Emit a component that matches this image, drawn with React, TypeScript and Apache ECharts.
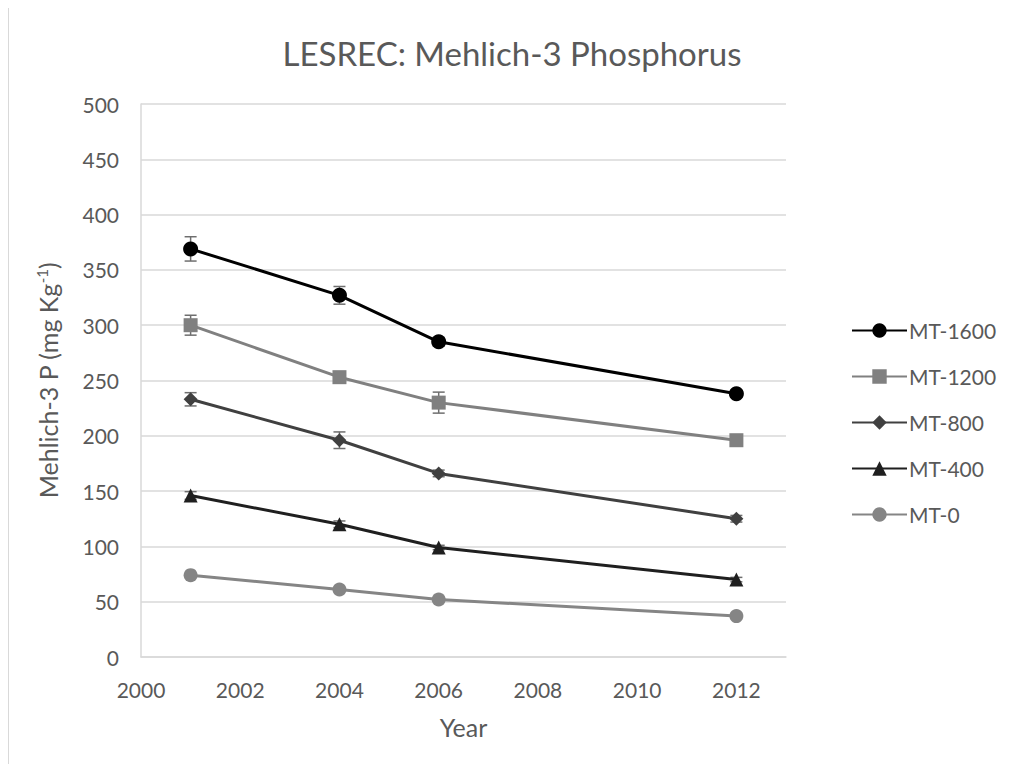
import React, { useEffect, useRef } from "react";
import * as echarts from "echarts";

const years = [2001, 2004, 2006, 2012];
const seriesNames = ["MT-1600", "MT-1200", "MT-800", "MT-400", "MT-0"];
const mt1600 = [369, 327, 285, 238];
const mt1200 = [300, 253, 230, 196];
const mt800 = [233, 196, 166, 125];
const mt400 = [146, 120, 99, 70];
const mt0 = [74, 61, 52, 37];
const err1600 = [11, 8, 4, 3];
const err1200 = [9, 5, 9.5, 5];
const err800 = [6, 7.5, 3, 3];
const err400 = [3.5, 3, 2, 2];
const err0 = [1.5, 1.5, 1.5, 1.5];
const yTicks = [0, 50, 100, 150, 200, 250, 300, 350, 400, 450, 500];
const xTicks = [2000, 2002, 2004, 2006, 2008, 2010, 2012];

const values = [mt1600, mt1200, mt800, mt400, mt0];
const errors = [err1600, err1200, err800, err400, err0];
const colors = ["#000000", "#808080", "#404040", "#1f1f1f", "#858585"];
const symbols = ["circle", "rect", "diamond", "triangle", "circle"];
const symbolSizes = [15, 14, 14, 14, 14];

const FONT = "Lato, 'Open Sans', sans-serif";
const TXT = "#595959";

export default function App() {
  const ref = useRef<HTMLDivElement>(null);
  useEffect(() => {
    if (!ref.current) return;
    const chart = echarts.init(ref.current, undefined, { renderer: "svg" });

    const lineSeries = seriesNames.map((name, i) => ({
      name,
      type: "line",
      data: years.map((y, j) => [y, values[i][j]]),
      symbol: symbols[i],
      symbolSize: symbolSizes[i],
      showSymbol: true,
      itemStyle: { color: colors[i] },
      lineStyle: { color: colors[i], width: 3 },
      z: 3,
    }));

    const errData: number[][] = [];
    values.forEach((vals, i) =>
      vals.forEach((v, j) => errData.push([years[j], v - errors[i][j], v + errors[i][j]]))
    );

    const errSeries = {
      type: "custom",
      name: "err",
      data: errData,
      z: 2,
      silent: true,
      encode: { x: 0, y: [1, 2] },
      renderItem: (params: any, api: any) => {
        const x = api.value(0);
        const lo = api.coord([x, api.value(1)]);
        const hi = api.coord([x, api.value(2)]);
        const half = 6;
        const style = { stroke: "#6e6e6e", lineWidth: 1.5 };
        return {
          type: "group",
          children: [
            { type: "line", shape: { x1: lo[0], y1: lo[1], x2: hi[0], y2: hi[1] }, style },
            { type: "line", shape: { x1: lo[0] - half, y1: lo[1], x2: lo[0] + half, y2: lo[1] }, style },
            { type: "line", shape: { x1: hi[0] - half, y1: hi[1], x2: hi[0] + half, y2: hi[1] }, style },
          ],
        };
      },
    };

    chart.setOption({
      animation: false,
      backgroundColor: "#ffffff",
      textStyle: { fontFamily: FONT },
      title: {
        text: "LESREC: Mehlich-3 Phosphorus",
        left: 498,
        textAlign: "center",
        top: 23,
        textStyle: { fontFamily: FONT, fontSize: 33, fontWeight: "normal", color: TXT },
      },
      legend: {
        data: seriesNames,
        orient: "vertical",
        left: 837,
        top: 307,
        itemWidth: 55,
        itemHeight: 18,
        itemGap: 25,
        textStyle: { fontFamily: FONT, fontSize: 21, color: TXT, padding: [0, 0, 0, -3] },
      },
      grid: {
        left: 132,
        right: 221,
        top: 96,
        bottom: 107,
        containLabel: false,
        outerBoundsMode: "none",
      },
      xAxis: {
        type: "value",
        min: 2000,
        max: 2013,
        interval: 2,
        name: "Year",
        nameLocation: "middle",
        nameGap: 57,
        nameTextStyle: { fontFamily: FONT, fontSize: 25, color: TXT },
        axisLine: { show: true, lineStyle: { color: "#d9d9d9", width: 1.5 } },
        axisTick: { show: false },
        splitLine: { show: false },
        axisLabel: {
          showMaxLabel: false,
          margin: 22,
          fontFamily: FONT,
          fontSize: 21,
          color: TXT,
          formatter: (v: number) => (xTicks.includes(v) ? String(v) : ""),
        },
      },
      yAxis: {
        type: "value",
        min: 0,
        max: 500,
        interval: 50,
        name: "{a|Mehlich-3 P (mg Kg}{s|-1}{a|)}",
        nameLocation: "middle",
        nameGap: 80,
        nameTextStyle: {
          fontFamily: FONT,
          fontSize: 25,
          color: TXT,
          rich: {
            a: { fontFamily: FONT, fontSize: 25, color: TXT },
            s: { fontFamily: FONT, fontSize: 15, color: TXT, verticalAlign: "top", padding: [0, 0, 12, 0] },
          },
        },
        axisLine: { show: true, lineStyle: { color: "#d9d9d9", width: 1.5 } },
        axisTick: { show: false },
        splitLine: { show: true, lineStyle: { color: "#d9d9d9", width: 1.5 } },
        axisLabel: {
          margin: 22,
          fontFamily: FONT,
          fontSize: 21,
          color: TXT,
          formatter: (v: number) => (yTicks.includes(v) ? String(v) : ""),
        },
      },
      series: [errSeries, ...lineSeries],
    });

    return () => chart.dispose();
  }, []);

  return (
    <div
      ref={ref}
      style={{ width: 999, height: 756, borderLeft: "1px solid #d9d9d9", boxSizing: "border-box" }}
    />
  );
}
